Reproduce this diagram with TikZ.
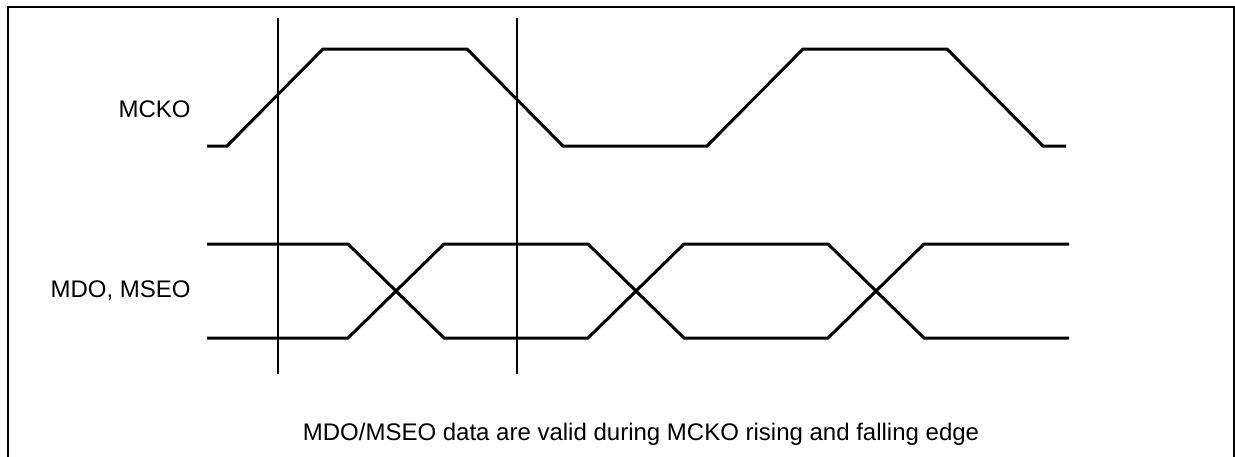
\documentclass[tikz,border=0pt]{standalone}
\usepackage{fontspec}
\setmainfont{Liberation Sans}
\begin{document}
\begin{tikzpicture}[x=0.5pt,y=-0.5pt,
  sig/.style={line width=1.5pt,line join=miter,line cap=butt},
  marker/.style={line width=0.9pt},
  frameline/.style={line width=1.1pt},
  lbl/.style={font=\fontsize{12}{14}\selectfont,inner sep=0pt}]
\useasboundingbox (0,0) rectangle (1235,456);
% frame (bottom edge cut off)
\draw[frameline] (8,460) -- (8,7) -- (1234,7) -- (1234,460);
% vertical reference lines
\coordinate (v1t) at (278,18);  \coordinate (v1b) at (278,374);
\coordinate (v2t) at (517,18);  \coordinate (v2b) at (517,374);
\draw[marker] (v1t) -- (v1b);
\draw[marker] (v2t) -- (v2b);
% MCKO
\draw[sig] (207,146) -- (227,146) -- (323,49) -- (467,49) -- (563,146)
  -- (707,146) -- (803,49) -- (947,49) -- (1043,146) -- (1066,146);
% MDO, MSEO
\draw[sig] (207,244) -- (348,244) -- (444,338) -- (588,338) -- (684,244)
  -- (828,244) -- (924,338) -- (1069,338);
\draw[sig] (207,338) -- (348,338) -- (444,244) -- (588,244) -- (684,338)
  -- (828,338) -- (924,244) -- (1069,244);
% labels
\node[lbl,anchor=east] (mcko) at (191,109) {MCKO};
\node[lbl,anchor=east] (mdo) at (191,291) {MDO, MSEO};
\node[lbl,anchor=base] (note) at (641,440) {MDO/MSEO data are valid during MCKO rising and falling edge};
\end{tikzpicture}
\end{document}
